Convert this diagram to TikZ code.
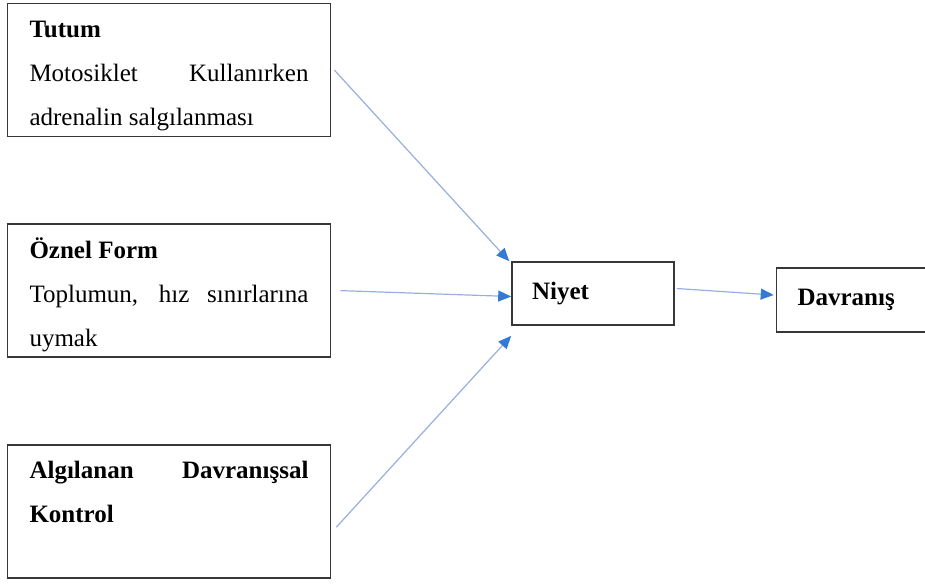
\documentclass[tikz,border=0pt]{standalone}
\usepackage{xcolor}
\usepackage{fontspec}
\setmainfont{Liberation Serif}
\usepackage{tikz}
\usetikzlibrary{arrows.meta,shapes,positioning}

\newcommand{\ustboy}{\rule{0pt}{17pt}}  % ilk satir yuksekligi
\newcommand{\altboy}{\rule[-5.5pt]{0pt}{5.5pt}}  % son satir derinligi

\begin{document}
\begin{tikzpicture}[x=0.5pt,y=-0.5pt,node distance=43pt]
    \definecolor{myline}{RGB}{150,175,222}
    \definecolor{myhead}{RGB}{52,122,212}
    \definecolor{mybox}{RGB}{55,55,55}

    \fontsize{12.5pt}{22pt}\selectfont  % yazi boyutu
    \tikzstyle{kutu}=[rectangle,draw=mybox,line width=0.8pt,fill=white,text width=139.5pt,inner xsep=11pt,inner ysep=0pt,align=justify,font=\fontsize{12.5pt}{22pt}\selectfont]  % sol taraftaki kutular
    \tikzstyle{kucuk}=[rectangle,draw=mybox,line width=0.8pt,fill=white,minimum height=31.5pt,align=left,font=\bfseries]  % niyet ve davranis
    \tikzstyle{ok}=[draw=myline,line width=0.6pt,-{Triangle[length=6.5pt,width=5.5pt,color=myhead]}]  % oklar

    \useasboundingbox (0,0) rectangle (925,584);

    % kutular
    \node[kutu] (tutum) at (169,70) {\ustboy\textbf{Tutum}\\ Motosiklet Kullanırken\linebreak adrenalin salgılanması\altboy};
    \node[kutu,below=of tutum] (oznel) {\ustboy\textbf{Öznel Form}\\ Toplumun, hız sınırlarına\linebreak uymak\altboy};
    \node[kutu,below=of oznel] (algi) {\ustboy\textbf{Algılanan Davranışsal\linebreak Kontrol}\\ \altboy};
    \node[kucuk,text width=61pt,inner xsep=10pt] (niyet) at (593,293.5) {Niyet};
    \node[kucuk,text width=61pt,inner xsep=10.5pt,minimum height=32pt] (davranis) at (858.5,300) {Davranış};

    % oklar
    \draw[ok] ([xshift=1.5pt]tutum.east) -- ([shift={(-1pt,0pt)}]niyet.north west);
    \draw[ok] ([xshift=4.5pt]oznel.east) -- ([yshift=-1.5pt]niyet.west);
    \draw[ok] ([shift={(2.5pt,-8pt)}]algi.east) -- ([yshift=-5pt]niyet.south west);
    \draw[ok] ([shift={(1pt,2.5pt)}]niyet.east) -- ([shift={(-1pt,2.5pt)}]davranis.west);
\end{tikzpicture}
\end{document}
